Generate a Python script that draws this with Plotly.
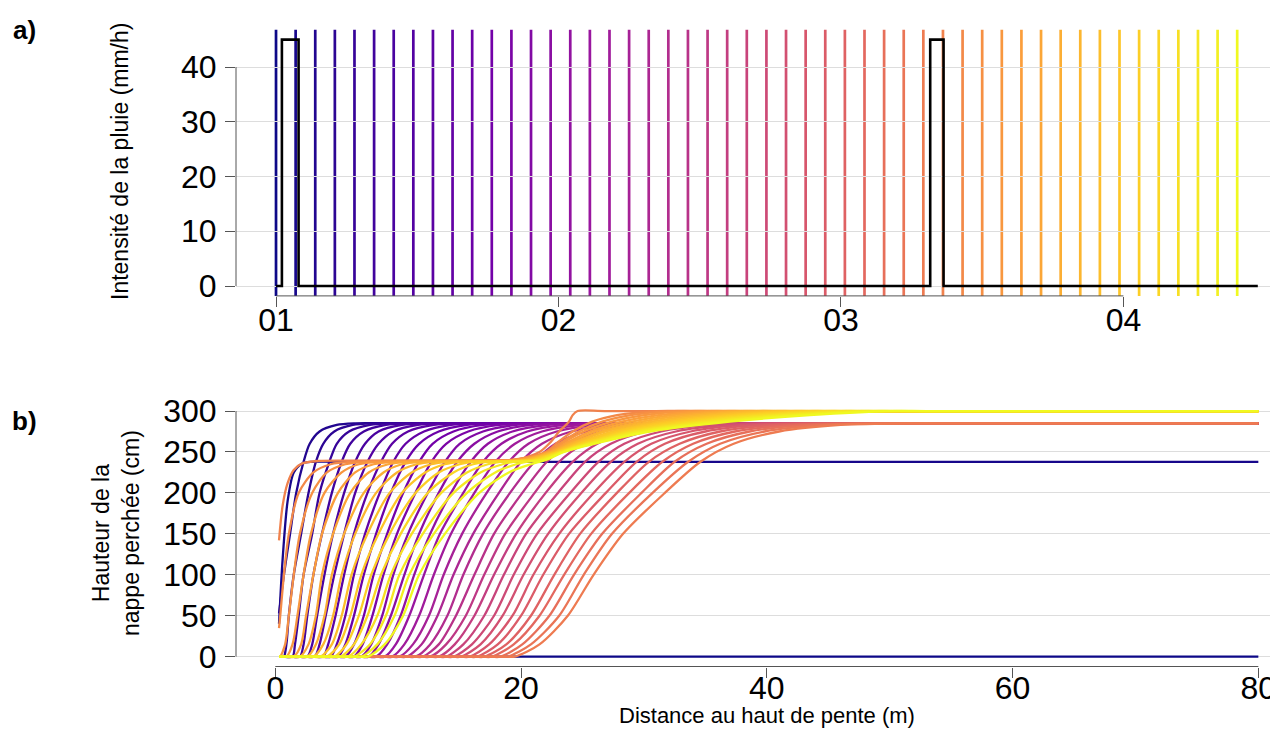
import plotly.graph_objects as go
from plotly.colors import sample_colorscale

# ---------------- data ----------------
# a) rain intensity (step function)
rain_times = ["2021-01-01 00:00", "2021-01-01 00:30", "2021-01-01 01:55",
              "2021-01-03 07:35", "2021-01-03 08:43", "2021-01-04 11:25"]
rain_mmh = [0, 45, 0, 45, 0, 0]

# times of the 50 water-table profiles (one vertical line each)
profile_times = [
    "2021-01-01 00:00", "2021-01-01 01:40", "2021-01-01 03:20", "2021-01-01 05:00", "2021-01-01 06:40",
    "2021-01-01 08:20", "2021-01-01 10:00", "2021-01-01 11:40", "2021-01-01 13:20", "2021-01-01 15:00",
    "2021-01-01 16:40", "2021-01-01 18:20", "2021-01-01 20:00", "2021-01-01 21:40", "2021-01-01 23:20",
    "2021-01-02 01:00", "2021-01-02 02:40", "2021-01-02 04:20", "2021-01-02 06:00", "2021-01-02 07:40",
    "2021-01-02 09:20", "2021-01-02 11:00", "2021-01-02 12:40", "2021-01-02 14:20", "2021-01-02 16:00",
    "2021-01-02 17:40", "2021-01-02 19:20", "2021-01-02 21:00", "2021-01-02 22:40", "2021-01-03 00:20",
    "2021-01-03 02:00", "2021-01-03 03:40", "2021-01-03 05:20", "2021-01-03 07:00", "2021-01-03 08:40",
    "2021-01-03 10:20", "2021-01-03 12:00", "2021-01-03 13:40", "2021-01-03 15:20", "2021-01-03 17:00",
    "2021-01-03 18:40", "2021-01-03 20:20", "2021-01-03 22:00", "2021-01-03 23:40", "2021-01-04 01:20",
    "2021-01-04 03:00", "2021-01-04 04:40", "2021-01-04 06:20", "2021-01-04 08:00", "2021-01-04 09:40",
]
day_ticks = ["2021-01-01", "2021-01-02", "2021-01-03", "2021-01-04"]
day_labels = ["01", "02", "03", "04"]

# b) water-table profiles: distance (m) / height (cm)
p0_x = [0.3, 80]
p0_h = [0, 0]
p1_x = [0.3, 0.6, 1.0, 1.5, 2.2, 3.0, 5.0, 80]
p1_h = [40, 120, 190, 225, 236, 238, 238, 238]
p2_x = [0.3, 0.7, 1.2, 1.7, 2.3, 2.8, 3.6, 5.0, 6.5, 9.5, 80]
p2_h = [53, 100, 150, 200, 238, 260, 275, 283, 285, 285, 285]

# profiles 3..33 : distance at which each reaches the heights of h_f1
h_f1 = [0, 0, 0, 15, 50, 100, 150, 200, 238, 260, 275, 283, 285, 285, 285]
x_f1 = [
    [0.3, 0.5, 0.7, 0.9, 1.1, 1.5, 2.1, 2.7, 3.3, 3.9, 4.8, 6.3, 8.0, 11.0, 80],
    [0.3, 0.6, 1.4, 1.6, 1.9, 2.3, 3.0, 3.6, 4.4, 5.0, 6.0, 7.7, 9.4, 12.4, 80],
    [0.3, 1.2, 2.0, 2.3, 2.6, 3.1, 3.8, 4.6, 5.4, 6.1, 7.2, 9.0, 10.9, 13.9, 80],
    [0.3, 1.8, 2.6, 3.0, 3.4, 4.0, 4.7, 5.6, 6.5, 7.3, 8.4, 10.3, 12.4, 15.4, 80],
    [0.3, 2.4, 3.2, 3.6, 4.1, 4.8, 5.6, 6.5, 7.5, 8.4, 9.6, 11.6, 13.8, 16.8, 80],
    [0.3, 3.1, 3.9, 4.3, 4.9, 5.6, 6.4, 7.5, 8.6, 9.5, 10.8, 12.9, 15.3, 18.3, 80],
    [0.3, 3.7, 4.5, 5.0, 5.7, 6.4, 7.3, 8.5, 9.6, 10.6, 12.1, 14.3, 16.8, 19.8, 80],
    [0.3, 4.3, 5.1, 5.7, 6.4, 7.2, 8.2, 9.4, 10.6, 11.7, 13.3, 15.6, 18.2, 21.2, 80],
    [0.3, 4.9, 5.7, 6.4, 7.2, 8.0, 9.1, 10.4, 11.7, 12.8, 14.5, 16.9, 19.7, 22.7, 80],
    [0.3, 5.6, 6.4, 7.1, 7.9, 8.8, 9.9, 11.4, 12.7, 13.9, 15.7, 18.2, 21.2, 24.2, 80],
    [0.3, 6.2, 7.0, 7.8, 8.7, 9.6, 10.8, 12.4, 13.8, 15.0, 16.9, 19.6, 22.7, 25.7, 80],
    [0.3, 6.8, 7.6, 8.4, 9.4, 10.5, 11.7, 13.3, 14.8, 16.2, 18.1, 20.9, 24.1, 27.1, 80],
    [0.3, 7.4, 8.2, 9.1, 10.2, 11.3, 12.6, 14.3, 15.9, 17.3, 19.3, 22.2, 25.6, 28.6, 80],
    [0.3, 8.1, 8.9, 9.8, 10.9, 12.1, 13.4, 15.3, 16.9, 18.4, 20.5, 23.5, 27.1, 30.1, 80],
    [0.3, 8.7, 9.5, 10.5, 11.7, 12.9, 14.3, 16.2, 17.9, 19.5, 21.7, 24.9, 28.5, 31.5, 80],
    [0.3, 9.3, 10.1, 11.2, 12.5, 13.7, 15.2, 17.2, 19.0, 20.6, 22.9, 26.2, 30.0, 33.0, 80],
    [0.3, 9.9, 10.7, 11.9, 13.2, 14.5, 16.1, 18.2, 20.0, 21.7, 24.1, 27.5, 31.5, 34.5, 80],
    [0.3, 10.6, 11.4, 12.6, 14.0, 15.3, 16.9, 19.1, 21.1, 22.8, 25.3, 28.8, 32.9, 35.9, 80],
    [0.3, 11.2, 12.0, 13.3, 14.7, 16.2, 17.8, 20.1, 22.1, 24.0, 26.5, 30.1, 34.4, 37.4, 80],
    [0.3, 11.8, 12.6, 13.9, 15.5, 17.0, 18.7, 21.1, 23.1, 25.1, 27.7, 31.5, 35.9, 38.9, 80],
    [0.3, 12.5, 13.3, 14.6, 16.2, 17.8, 19.6, 22.0, 24.2, 26.2, 29.0, 32.8, 37.3, 40.3, 80],
    [0.3, 13.1, 13.9, 15.3, 17.0, 18.6, 20.4, 23.0, 25.2, 27.3, 30.2, 34.1, 38.8, 41.8, 80],
    [0.3, 13.7, 14.5, 16.0, 17.8, 19.4, 21.3, 24.0, 26.3, 28.4, 31.4, 35.4, 40.3, 43.3, 80],
    [0.3, 14.3, 15.1, 16.7, 18.5, 20.2, 22.2, 24.9, 27.3, 29.5, 32.6, 36.8, 41.7, 44.7, 80],
    [0.3, 15.0, 15.8, 17.4, 19.3, 21.0, 23.1, 25.9, 28.4, 30.6, 33.8, 38.1, 43.2, 46.2, 80],
    [0.3, 15.6, 16.4, 18.1, 20.0, 21.8, 23.9, 26.9, 29.4, 31.7, 35.0, 39.4, 44.7, 47.7, 80],
    [0.3, 16.2, 17.0, 18.8, 20.8, 22.7, 24.8, 27.8, 30.4, 32.9, 36.2, 40.7, 46.1, 49.1, 80],
    [0.3, 16.8, 17.6, 19.4, 21.5, 23.5, 25.7, 28.8, 31.5, 34.0, 37.4, 42.0, 47.6, 50.6, 80],
    [0.3, 17.5, 18.3, 20.1, 22.3, 24.3, 26.6, 29.8, 32.5, 35.1, 38.6, 43.4, 49.1, 52.1, 80],
    [0.3, 18.1, 18.9, 20.8, 23.1, 25.1, 27.4, 30.7, 33.6, 36.2, 39.8, 44.7, 50.5, 53.5, 80],
    [0.3, 18.7, 19.5, 21.5, 23.8, 25.9, 28.3, 31.7, 34.6, 37.3, 41.0, 46.0, 52.0, 55.0, 80],
]

# profiles 34, 35 (right after the 2nd rain)
p34_x = [0.3, 0.6, 1.0, 1.5, 2.2, 3.5, 6.0, 18.5, 19.5, 21.5, 22.4, 23.1, 23.9, 24.2, 24.6, 27.0, 80]
p34_h = [142, 185, 212, 228, 236, 239, 239.5, 240, 240, 250, 262, 275, 287, 295, 300, 300, 300]
p35_x = [0.3, 0.4, 0.7, 1.1, 1.9, 3.1, 4.5, 6.5, 19.0, 22.0, 23.0, 24.2, 25.8, 27.8, 31.0, 34.0, 80]
p35_h = [35, 50, 100, 150, 200, 225, 235, 238, 240, 250, 262, 275, 287, 295, 300, 300, 300]

# profiles 36..49
h_f2 = [0, 0, 0, 15, 50, 100, 150, 200, 225, 235, 238, 240, 250, 262, 275, 287, 295, 300, 300, 300]
x_f2 = [
    [0.3, 0.35, 0.4, 0.8, 1.1, 1.5, 2.0, 3.0, 4.2, 5.7, 7.6, 19.2, 22.1, 23.3, 24.7, 26.6, 28.9, 32.4, 35.4, 80],
    [0.3, 0.5, 0.9, 1.4, 1.8, 2.3, 2.9, 4.0, 5.4, 6.8, 8.6, 19.4, 22.2, 23.5, 25.1, 27.4, 30.0, 33.7, 36.7, 80],
    [0.3, 0.7, 1.5, 2.1, 2.5, 3.1, 3.8, 5.1, 6.5, 8.0, 9.7, 19.6, 22.3, 23.8, 25.6, 28.2, 31.2, 35.1, 38.1, 80],
    [0.3, 1.2, 2.0, 2.7, 3.3, 3.8, 4.7, 6.1, 7.6, 9.2, 10.8, 19.9, 22.4, 24.0, 26.0, 29.0, 32.3, 36.4, 39.4, 80],
    [0.3, 1.8, 2.6, 3.3, 4.0, 4.6, 5.6, 7.2, 8.8, 10.3, 11.9, 20.1, 22.5, 24.3, 26.5, 29.8, 33.4, 37.8, 40.8, 80],
    [0.3, 2.3, 3.1, 3.9, 4.7, 5.4, 6.5, 8.2, 9.9, 11.5, 12.9, 20.3, 22.6, 24.5, 26.9, 30.6, 34.5, 39.1, 42.1, 80],
    [0.3, 2.9, 3.7, 4.6, 5.4, 6.2, 7.5, 9.3, 11.1, 12.7, 14.0, 20.5, 22.8, 24.8, 27.4, 31.4, 35.7, 40.5, 43.5, 80],
    [0.3, 3.4, 4.2, 5.2, 6.1, 7.0, 8.4, 10.3, 12.2, 13.8, 15.1, 20.7, 22.9, 25.0, 27.8, 32.2, 36.8, 41.9, 44.9, 80],
    [0.3, 4.0, 4.8, 5.8, 6.8, 7.8, 9.3, 11.4, 13.3, 15.0, 16.1, 20.9, 23.0, 25.3, 28.3, 33.0, 37.9, 43.2, 46.2, 80],
    [0.3, 4.5, 5.3, 6.4, 7.5, 8.6, 10.2, 12.4, 14.5, 16.1, 17.2, 21.1, 23.1, 25.5, 28.7, 33.8, 39.0, 44.6, 47.6, 80],
    [0.3, 5.1, 5.9, 7.0, 8.3, 9.4, 11.1, 13.5, 15.6, 17.3, 18.3, 21.4, 23.2, 25.8, 29.2, 34.6, 40.1, 45.9, 48.9, 80],
    [0.3, 5.6, 6.4, 7.7, 9.0, 10.1, 12.0, 14.5, 16.7, 18.5, 19.4, 21.6, 23.3, 26.0, 29.6, 35.4, 41.3, 47.3, 50.3, 80],
    [0.3, 6.2, 7.0, 8.3, 9.7, 10.9, 12.9, 15.6, 17.9, 19.6, 20.4, 21.8, 23.4, 26.3, 30.1, 36.2, 42.4, 48.6, 51.6, 80],
    [0.3, 6.7, 7.5, 8.9, 10.4, 11.7, 13.8, 16.6, 19.0, 20.8, 21.5, 22.0, 23.5, 26.5, 30.5, 37.0, 43.5, 50.0, 53.0, 80],
]

profiles = ([(p0_x, p0_h), (p1_x, p1_h), (p2_x, p2_h)]
            + [(row, h_f1) for row in x_f1]
            + [(p34_x, p34_h), (p35_x, p35_h)]
            + [(row, h_f2) for row in x_f2])

# ---------------- figure ----------------
OFF = 8                      # page body margin
W, H = 1278 - OFF, 729 - OFF
L = 236 - OFF                # left margin (screen x = 236)
PW = W - L
FONT = "Liberation Sans, Arial, sans-serif"
n = len(profile_times)
colors = sample_colorscale("Plasma", [k / (n - 1) for k in range(n)])


def px_x(p):
    return (p - OFF - L) / PW


def px_y(p):
    return 1 - (p - OFF) / H


fig = go.Figure()

for (xs, hs), c in zip(profiles, colors):
    fig.add_trace(go.Scatter(x=xs, y=hs, mode="lines", xaxis="x2", yaxis="y2",
                             line=dict(color=c, width=2.3, shape="spline", smoothing=0.8),
                             showlegend=False, hoverinfo="skip"))

fig.add_trace(go.Scatter(x=rain_times, y=rain_mmh, mode="lines", xaxis="x", yaxis="y",
                         line=dict(color="black", width=2.6, shape="hv"),
                         showlegend=False, hoverinfo="skip"))

shapes = []
for t, c in zip(profile_times, colors):
    shapes.append(dict(type="line", xref="x", yref="y domain", x0=t, x1=t, y0=0, y1=1,
                       line=dict(color=c, width=2.7), layer="below"))

axc = "#555555"
shapes += [
    dict(type="line", xref="x domain", yref="y", x0=0, x1=0, y0=0, y1=40, line=dict(color=axc, width=1)),
    dict(type="line", xref="x", yref="y domain", x0=day_ticks[0], x1=day_ticks[-1], y0=0, y1=0,
         line=dict(color=axc, width=1)),
    dict(type="line", xref="x2 domain", yref="y2", x0=0, x1=0, y0=0, y1=300, line=dict(color=axc, width=1)),
    dict(type="line", xref="x2", yref="y2 domain", x0=0, x1=80, y0=0, y1=0, line=dict(color=axc, width=1)),
]

tickfont = dict(family=FONT, size=32, color="black")
common = dict(showline=False, zeroline=False, ticks="outside", ticklen=10, tickcolor=axc, tickwidth=1,
              tickfont=tickfont, automargin=False)

fig.update_layout(
    width=W, height=H,
    margin=dict(l=L, r=0, t=0, b=0),
    paper_bgcolor="white", plot_bgcolor="white",
    font=dict(family=FONT, color="black"),
    showlegend=False,
    shapes=shapes,
    xaxis=dict(domain=[0, 1], anchor="y", type="date",
               range=["2020-12-31 20:36", "2021-01-04 13:08"],
               tickmode="array", tickvals=day_ticks, ticktext=day_labels,
               showgrid=False, ticklabelstandoff=-14, **common),
    yaxis=dict(domain=[px_y(295.9), px_y(29.8)], anchor="x", range=[-1.8, 46.8],
               tickmode="array", tickvals=[0, 10, 20, 30, 40],
               showgrid=True, gridcolor="#dddddd", gridwidth=1, ticklabelstandoff=2, **common),
    xaxis2=dict(domain=[0, 1], anchor="y2", range=[-3.2, 81.6],
                tickmode="array", tickvals=[0, 20, 40, 60, 80],
                showgrid=False, ticklabelstandoff=-17, **common),
    yaxis2=dict(domain=[px_y(666.5), px_y(401.2)], anchor="x2", range=[-12, 312],
                tickmode="array", tickvals=[0, 50, 100, 150, 200, 250, 300],
                showgrid=True, gridcolor="#dddddd", gridwidth=1, ticklabelstandoff=2, **common),
    annotations=[
        dict(text="<b>a)</b>", xref="paper", yref="paper", x=px_x(24), y=px_y(30),
             xanchor="center", yanchor="middle",
             showarrow=False, font=dict(size=26, family=FONT, color="black")),
        dict(text="<b>b)</b>", xref="paper", yref="paper", x=px_x(24), y=px_y(421),
             xanchor="center", yanchor="middle",
             showarrow=False, font=dict(size=26, family=FONT, color="black")),
        dict(text="Intensité de la pluie (mm/h)", xref="paper", yref="paper",
             x=px_x(120), y=px_y(162), textangle=-90, xanchor="center", yanchor="middle",
             showarrow=False, font=dict(size=23, family=FONT, color="black")),
        dict(text="Hauteur de la<br>nappe perchée (cm)", xref="paper", yref="paper",
             x=px_x(116), y=px_y(533), textangle=-90, xanchor="center", yanchor="middle",
             showarrow=False, font=dict(size=23, family=FONT, color="black")),
        dict(text="Distance au haut de pente (m)", xref="paper", yref="paper",
             x=px_x(767), y=px_y(715), xanchor="center", yanchor="middle",
             showarrow=False, font=dict(size=22, family=FONT, color="black")),
    ],
)

fig.write_html("out.html")
